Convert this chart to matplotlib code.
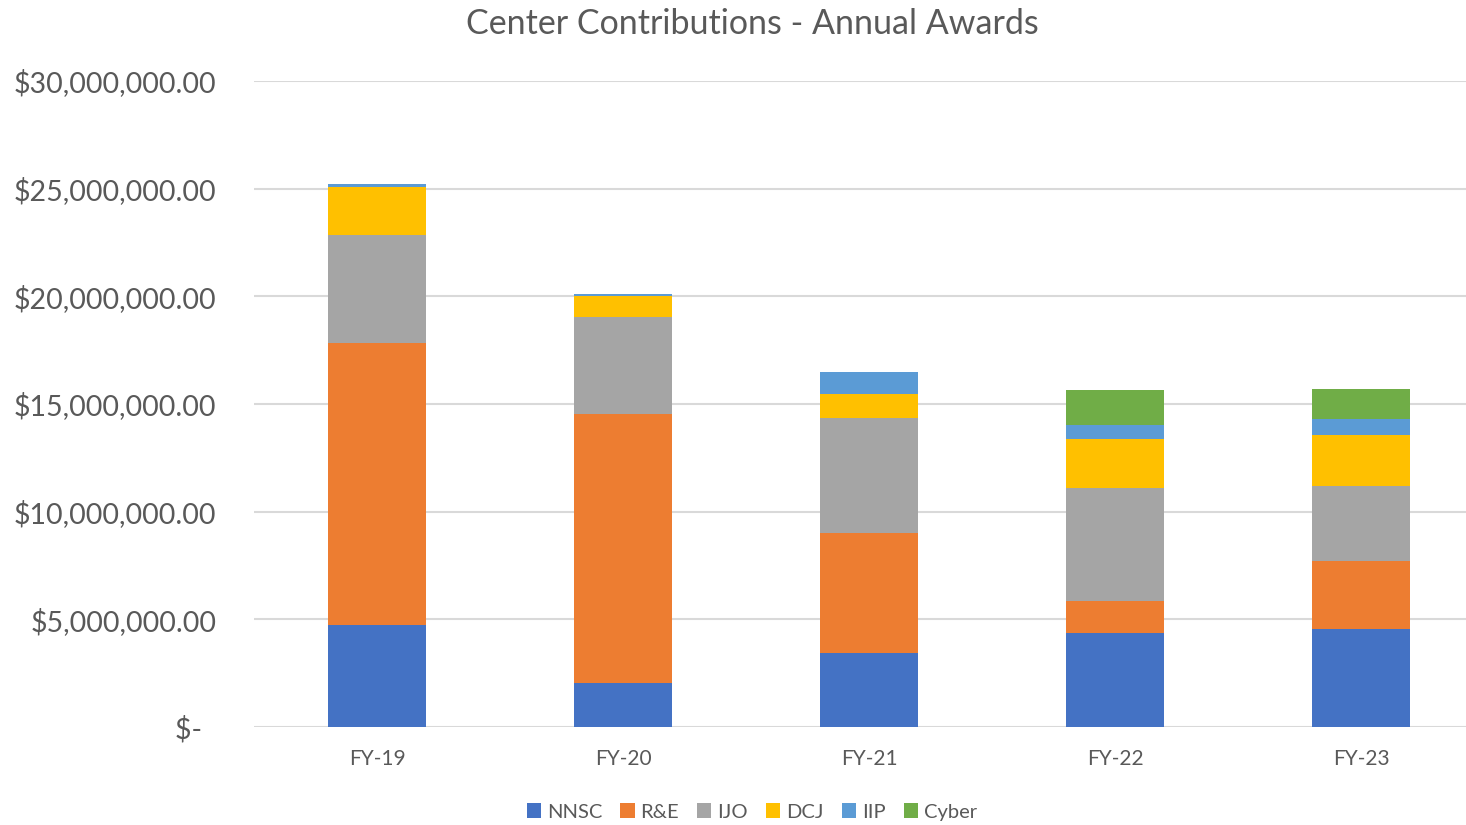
import numpy as np
import matplotlib.pyplot as plt
from matplotlib.ticker import FuncFormatter

# ---- data (in dollars) ----
years = ["FY-19", "FY-20", "FY-21", "FY-22", "FY-23"]
nnsc  = [4740000, 2040000, 3440000, 4370000, 4550000]
r_e   = [13090000, 12500000, 5570000, 1480000, 3160000]
ijo   = [5020000, 4520000, 5360000, 5260000, 3460000]
dcj   = [2230000, 970000, 1110000, 2280000, 2410000]
iip   = [140000, 90000, 1010000, 620000, 710000]
cyber = [0, 0, 0, 1660000, 1420000]

series = [("NNSC", nnsc, "#4472C4"), ("R&E", r_e, "#ED7D31"), ("IJO", ijo, "#A5A5A5"),
          ("DCJ", dcj, "#FFC000"), ("IIP", iip, "#5B9BD5"), ("Cyber", cyber, "#70AD47")]

plt.rcParams['font.family'] = ['Lato', 'DejaVu Sans']
txt = "#595959"

fig = plt.figure(figsize=(14.66, 8.25), dpi=100)
W, H = 1466, 825
ax = fig.add_axes([254 / W, (H - 727) / H, 1230 / W, (727 - 81) / H])

x = np.arange(len(years))
bottom = np.zeros(len(years))
for name, vals, col in series:
    vals = np.array(vals, dtype=float)
    ax.bar(x, vals, 0.4, bottom=bottom, color=col, label=name, zorder=3)
    bottom += vals

ax.set_xlim(-0.5, 4.5)
ax.set_ylim(0, 30000000)
ax.set_yticks(np.arange(0, 30000001, 5000000))
ax.yaxis.set_major_formatter(FuncFormatter(lambda v, p: "$-  " if v == 0 else f"${v:,.2f}"))
ax.set_xticks(x)
ax.set_xticklabels(years)
ax.grid(axis='y', color='#D9D9D9', linewidth=1.5, zorder=0)
for s in ax.spines.values():
    s.set_visible(False)
ax.tick_params(axis='y', length=0, labelsize=20.5, labelcolor=txt, pad=27)
ax.tick_params(axis='x', length=0, labelsize=15, labelcolor=txt, pad=16)

fig.text(752 / W, 1 - 24 / H, "Center Contributions - Annual Awards", ha='center', va='center',
         fontsize=24.5, color=txt)

fig.legend(loc='center', bbox_to_anchor=(752 / W, 1 - 812 / H), ncol=6, frameon=False,
           fontsize=14.5, labelcolor=txt, handlelength=0.7, handleheight=0.7,
           handletextpad=0.3, columnspacing=0.9)

fig.savefig("out.png", dpi=100)
